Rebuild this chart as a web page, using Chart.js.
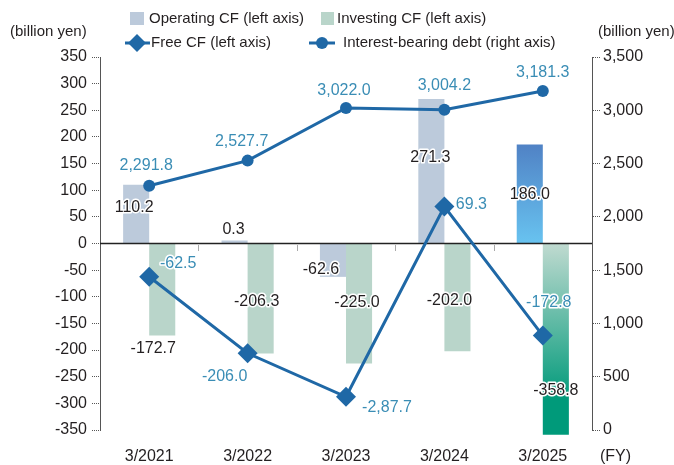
<!DOCTYPE html>
<html>
<head>
<meta charset="utf-8">
<script src="https://cdn.jsdelivr.net/npm/chart.js@4.4.1/dist/chart.umd.min.js"></script>
<style>
  html, body { margin: 0; padding: 0; background: #fff; }
  #wrap { position: relative; width: 674px; height: 465px; }
</style>
</head>
<body>
<div id="wrap"><canvas id="chart" width="674" height="465"></canvas></div>
<script>
const years = ['3/2021', '3/2022', '3/2023', '3/2024', '3/2025'];
const operatingCF = [110.2, 0.3, -62.6, 271.3, 186.0];
const investingCF = [-172.7, -206.3, -225.0, -202.0, -358.8];
const freeCF = [-62.5, -206.0, -287.7, 69.3, -172.8];
const debt = [2291.8, 2527.7, 3022.0, 3004.2, 3181.3];

// label texts as printed on the original (typo in FY2023 free CF kept)
const operatingLabels = ['110.2', '0.3', '-62.6', '271.3', '186.0'];
const investingLabels = ['-172.7', '-206.3', '-225.0', '-202.0', '-358.8'];
const freeCFLabels = ['-62.5', '-206.0', '-2,87.7', '69.3', '-172.8'];
const debtLabels = ['2,291.8', '2,527.7', '3,022.0', '3,004.2', '3,181.3'];

const leftMin = -350, leftMax = 350, leftStep = 50;
const rightMin = 0, rightMax = 3500, rightStep = 500;

// where each value label sits relative to its bar end / point (px)
const opOffsets = [[-2, 23], [-1, -11], [-12, -7], [-1, 59], [0, 50]];
const invOffsets = [[-9, 13], [-4, -52], [-2, -61], [-8, -51], [0, -44]];
const freeOffsets = [[29, -13], [-23, 23], [41, 11], [27, -2], [6, -33]];
const debtOffsets = [[-3, -20], [-6, -19], [-2, -17], [0, -24], [0, -18]];

const FONT = "'Liberation Sans', Arial, sans-serif";
const TEXT = '#231f20';
const OP_COLOR = '#bccadb';
const INV_COLOR = '#b9d5ca';
const LINE_COLOR = '#1f68a6';
const LABEL_BLUE = '#3a8db5';
const AXIS_COLOR = '#555';

function opColor(ctx) {
    if (ctx.dataIndex !== 4 || !ctx.chart.scales.y) return OP_COLOR;
    const y = ctx.chart.scales.y;
    const g = ctx.chart.ctx.createLinearGradient(0, y.getPixelForValue(operatingCF[4]), 0, y.getPixelForValue(0));
    g.addColorStop(0, '#5082c5');
    g.addColorStop(1, '#68c3f0');
    return g;
}

function invColor(ctx) {
    if (ctx.dataIndex !== 4 || !ctx.chart.scales.y) return INV_COLOR;
    const y = ctx.chart.scales.y;
    const g = ctx.chart.ctx.createLinearGradient(0, y.getPixelForValue(0), 0, y.getPixelForValue(investingCF[4]));
    g.addColorStop(0, '#c0dad0');
    g.addColorStop(0.82, '#009a7a');
    g.addColorStop(1, '#009a7a');
    return g;
}

function haloText(c, text, x, y, color) {
    c.lineWidth = 3;
    c.strokeStyle = '#fff';
    c.lineJoin = 'round';
    c.strokeText(text, x, y);
    c.fillStyle = color;
    c.fillText(text, x, y);
}

const decorations = {
    id: 'decorations',
    afterDatasetDraw(chart, args) {
        if (args.index !== 0) return;
        // zero line + small dotted marks between years
        const c = chart.ctx, area = chart.chartArea;
        const y0 = chart.scales.y.getPixelForValue(0);
        const x = chart.scales.x;
        c.save();
        c.strokeStyle = '#222';
        c.lineWidth = 1.5;
        c.beginPath();
        c.moveTo(area.left, y0);
        c.lineTo(area.right, y0);
        c.stroke();
        c.strokeStyle = AXIS_COLOR;
        c.lineWidth = 1;
        c.setLineDash([1, 1]);
        for (let i = 0; i < years.length - 1; i++) {
            const mx = Math.round((x.getPixelForValue(i) + x.getPixelForValue(i + 1)) / 2) + 0.5;
            c.beginPath();
            c.moveTo(mx, y0 + 2);
            c.lineTo(mx, y0 + 8);
            c.stroke();
        }
        c.restore();
    },
    afterDraw(chart) {
        const c = chart.ctx;
        c.save();
        c.textBaseline = 'middle';
        c.textAlign = 'center';
        c.font = '16px ' + FONT;

        const sets = [
            [0, operatingLabels, opOffsets, TEXT],
            [1, investingLabels, invOffsets, TEXT],
            [2, freeCFLabels, freeOffsets, LABEL_BLUE],
            [3, debtLabels, debtOffsets, LABEL_BLUE]
        ];
        sets.forEach(([idx, labels, offs, color]) => {
            chart.getDatasetMeta(idx).data.forEach((el, i) => {
                haloText(c, labels[i], el.x + offs[i][0], el.y + offs[i][1], color);
            });
        });

        // axis titles
        c.fillStyle = TEXT;
        c.font = '15px ' + FONT;
        c.textAlign = 'left';
        c.fillText('(billion yen)', 10, 32);
        c.fillText('(billion yen)', 598, 32);
        c.font = '16px ' + FONT;
        c.fillText('(FY)', 600, 457);

        // legend
        c.font = '15px ' + FONT;
        c.fillStyle = OP_COLOR;
        c.fillRect(130, 12, 14, 13);
        c.fillStyle = INV_COLOR;
        c.fillRect(321, 12, 13, 13);
        c.fillStyle = TEXT;
        c.fillText('Operating CF (left axis)', 149, 19);
        c.fillText('Investing CF (left axis)', 337, 19);

        c.strokeStyle = LINE_COLOR;
        c.fillStyle = LINE_COLOR;
        c.lineWidth = 3;
        c.beginPath();
        c.moveTo(125, 43);
        c.lineTo(150, 43);
        c.stroke();
        c.beginPath();
        c.moveTo(137, 34);
        c.lineTo(146, 43);
        c.lineTo(137, 52);
        c.lineTo(128, 43);
        c.closePath();
        c.fill();

        c.beginPath();
        c.moveTo(309, 43);
        c.lineTo(335, 43);
        c.stroke();
        c.beginPath();
        c.arc(322, 43, 6, 0, Math.PI * 2);
        c.fill();

        c.fillStyle = TEXT;
        c.fillText('Free CF (left axis)', 151, 43);
        c.fillText('Interest-bearing debt (right axis)', 343, 43);
        c.restore();
    }
};

new Chart(document.getElementById('chart'), {
    data: {
        labels: years,
        datasets: [
            {
                type: 'bar',
                label: 'Operating CF (left axis)',
                data: operatingCF,
                backgroundColor: opColor,
                yAxisID: 'y',
                order: 2,
                minBarLength: 3,
                categoryPercentage: 0.53,
                barPercentage: 1
            },
            {
                type: 'bar',
                label: 'Investing CF (left axis)',
                data: investingCF,
                backgroundColor: invColor,
                yAxisID: 'y',
                order: 2,
                clip: false,
                categoryPercentage: 0.53,
                barPercentage: 1
            },
            {
                type: 'line',
                label: 'Free CF (left axis)',
                data: freeCF,
                borderColor: LINE_COLOR,
                backgroundColor: LINE_COLOR,
                borderWidth: 3,
                pointStyle: 'rectRot',
                pointRadius: 10,
                pointBorderWidth: 0,
                yAxisID: 'y',
                order: 1
            },
            {
                type: 'line',
                label: 'Interest-bearing debt (right axis)',
                data: debt,
                borderColor: LINE_COLOR,
                backgroundColor: LINE_COLOR,
                borderWidth: 3,
                pointStyle: 'circle',
                pointRadius: 6,
                pointBorderWidth: 0,
                yAxisID: 'y1',
                order: 1
            }
        ]
    },
    options: {
        responsive: false,
        animation: false,
        events: [],
        layout: { padding: { top: 57, left: 0, right: 0, bottom: 0 } },
        plugins: {
            legend: { display: false },
            tooltip: { enabled: false }
        },
        scales: {
            x: {
                grid: { display: false, drawTicks: false },
                border: { display: false },
                ticks: { color: TEXT, font: { size: 16, family: FONT }, padding: 17 },
                afterFit: s => { s.height = 35; }
            },
            y: {
                position: 'left',
                min: leftMin,
                max: leftMax,
                ticks: { stepSize: leftStep, color: TEXT, font: { size: 16, family: FONT }, padding: 5 },
                grid: { drawOnChartArea: false, tickLength: 8, tickColor: AXIS_COLOR, tickBorderDash: [1, 1] },
                border: { color: AXIS_COLOR, dash: [1, 1] },
                afterFit: s => { s.width = 100; }
            },
            y1: {
                position: 'right',
                min: rightMin,
                max: rightMax,
                ticks: {
                    stepSize: rightStep,
                    color: TEXT,
                    font: { size: 16, family: FONT },
                    padding: 3,
                    callback: v => v.toLocaleString('en-US')
                },
                grid: { drawOnChartArea: false, tickLength: 8, tickColor: AXIS_COLOR, tickBorderDash: [1, 1] },
                border: { color: AXIS_COLOR, dash: [1, 1] },
                afterFit: s => { s.width = 82; }
            }
        }
    },
    plugins: [decorations]
});
</script>
</body>
</html>
